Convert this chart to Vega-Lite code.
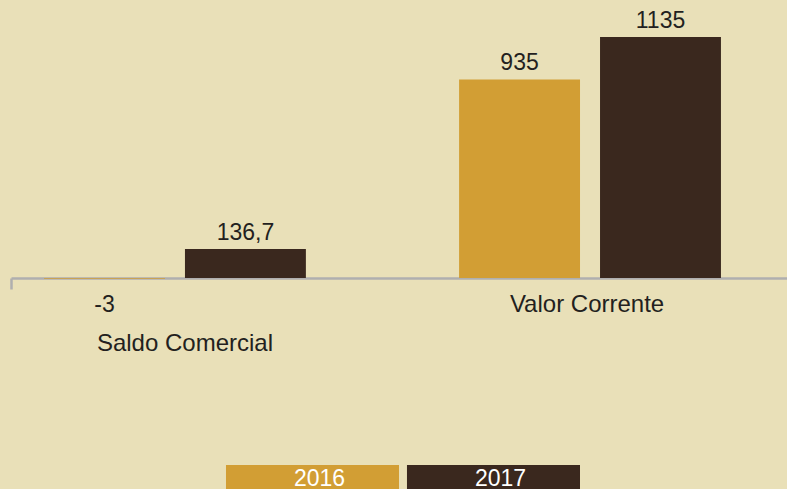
{
  "$schema": "https://vega.github.io/schema/vega-lite/v6.json",
  "background": "#E9E0B8",
  "padding": {"left": 9, "top": 0, "right": 0, "bottom": 0},
  "bounds": "flush",
  "center": true,
  "spacing": 187,
  "config": {
    "view": {"stroke": null},
    "font": "Liberation Sans",
    "locale": {"number": {"decimal": ",", "thousands": ".", "grouping": [3], "currency": ["", ""], "minus": "-"}}
  },
  "resolve": {"scale": {"x": "independent", "color": "shared"}},
  "datasets": {
    "values": [
      {"category": "Saldo Comercial", "year": "2016", "value": -3},
      {"category": "Saldo Comercial", "year": "2017", "value": 136.7},
      {"category": "Valor Corrente", "year": "2016", "value": 935},
      {"category": "Valor Corrente", "year": "2017", "value": 1135}
    ],
    "years": [{"year": "2016"}, {"year": "2017"}]
  },
  "vconcat": [
    {
      "width": 777,
      "height": 278,
      "data": {"name": "values"},
      "encoding": {
        "x": {
          "field": "category",
          "type": "nominal",
          "sort": ["Saldo Comercial", "Valor Corrente"],
          "scale": {"paddingInner": 0.128, "paddingOuter": 0},
          "axis": {
            "labels": false,
            "title": null,
            "values": ["Saldo Comercial"],
            "bandPosition": 0,
            "grid": false,
            "domainColor": "#AFAFAF",
            "domainWidth": 2.5,
            "tickColor": "#AFAFAF",
            "tickWidth": 2.5,
            "tickSize": 11
          }
        },
        "y": {
          "field": "value",
          "type": "quantitative",
          "scale": {"domain": [0, 1309], "nice": false},
          "axis": null
        }
      },
      "layer": [
        {
          "mark": {"type": "bar"},
          "encoding": {
            "xOffset": {
              "field": "year",
              "type": "nominal",
              "scale": {"paddingInner": 0.142, "paddingOuter": 0.355, "align": 0.33}
            },
            "color": {
              "field": "year",
              "type": "nominal",
              "scale": {"domain": ["2016", "2017"], "range": ["#D29E34", "#3A281E"]},
              "legend": null
            }
          }
        },
        {
          "transform": [{"filter": "datum.value >= 0"}],
          "mark": {"type": "text", "baseline": "alphabetic", "dy": -9, "fontSize": 23, "color": "#231F20"},
          "encoding": {
            "xOffset": {"field": "year", "type": "nominal"},
            "text": {"field": "value", "type": "quantitative", "format": ".1~f"}
          }
        },
        {
          "transform": [{"filter": "datum.value < 0"}],
          "mark": {"type": "text", "baseline": "alphabetic", "dy": 33, "fontSize": 23, "color": "#231F20"},
          "encoding": {
            "xOffset": {"field": "year", "type": "nominal"},
            "text": {"field": "value", "type": "quantitative", "format": ".1~f"}
          }
        },
        {
          "transform": [{"filter": "datum.year === '2016' && datum.category === 'Valor Corrente'"}],
          "mark": {"type": "text", "baseline": "alphabetic", "dy": 34, "dx": -20, "fontSize": 24, "color": "#231F20"},
          "encoding": {
            "y": {"datum": 0},
            "text": {"field": "category", "type": "nominal"}
          }
        },
        {
          "transform": [{"filter": "datum.year === '2016' && datum.category === 'Saldo Comercial'"}],
          "mark": {"type": "text", "baseline": "alphabetic", "dy": 73, "dx": -7, "fontSize": 24, "color": "#231F20"},
          "encoding": {
            "y": {"datum": 0},
            "text": {"field": "category", "type": "nominal"}
          }
        }
      ]
    },
    {
      "width": 361,
      "height": 30,
      "data": {"name": "years"},
      "encoding": {
        "x": {
          "field": "year",
          "type": "nominal",
          "scale": {"paddingInner": 0.044, "paddingOuter": 0.0193, "align": 1},
          "axis": null
        }
      },
      "layer": [
        {
          "mark": {"type": "bar"},
          "encoding": {
            "color": {"field": "year", "type": "nominal", "legend": null}
          }
        },
        {
          "mark": {"type": "text", "fontSize": 23, "color": "#FFFFFF", "baseline": "alphabetic", "dy": 6, "dx": 7},
          "encoding": {
            "text": {"field": "year", "type": "nominal"}
          }
        }
      ]
    }
  ]
}
